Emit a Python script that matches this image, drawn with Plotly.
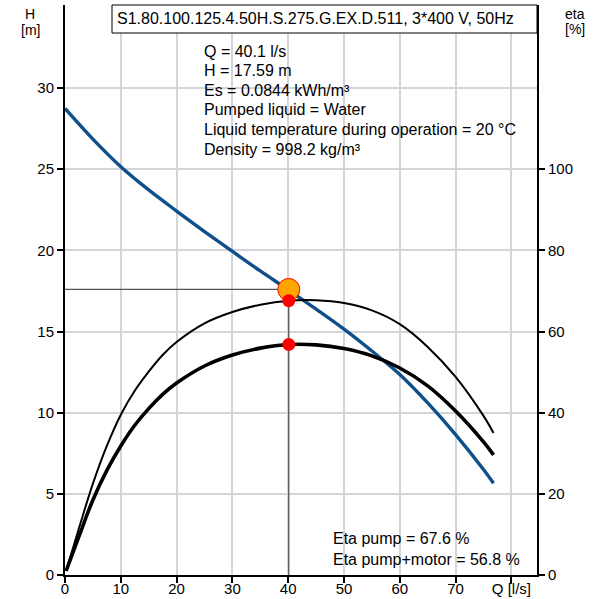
import plotly.graph_objects as go

# ---- data ----
Q_H = [0, 5, 10, 15, 20, 25, 30, 35, 40, 45, 50, 55, 60, 65, 70, 75, 76.8]
H = [28.74, 26.85, 25.15, 23.72, 22.42, 21.16, 19.93, 18.73, 17.57, 16.38, 15.15, 13.8, 12.35, 10.6, 8.65, 6.5, 5.65]

Q_eta = [0.2, 2.5, 5, 7.5, 10, 12.5, 15, 17.5, 20, 25, 30, 35, 40.1, 45, 50, 55, 60, 65, 70, 75, 76.8]
eta_pump = [1, 11.5, 22.5, 31.8, 39.5, 45.4, 50.1, 54.2, 57.4, 62, 64.8, 66.6, 67.6, 67.7, 67.0, 65.2, 61.8, 56.2, 48.8, 39.2, 35.0]
eta_total = [1, 9.5, 18.5, 25.8, 31.8, 36.9, 41, 44.5, 47.3, 51.5, 54.2, 55.9, 56.8, 56.7, 55.8, 54.0, 51.0, 46.6, 40.4, 32.8, 29.6]

Q_op = 40.1
H_op = 17.59
eta_pump_op = 67.6
eta_total_op = 56.8

x_tickvals = [0, 10, 20, 30, 40, 50, 60, 70, 80]
x_ticktext = ["0", "10", "20", "30", "40", "50", "60", "70", "Q [l/s]"]
y_tickvals = [0, 5, 10, 15, 20, 25, 30]
y2_tickvals = [0, 20, 40, 60, 80, 100]

title_text = "S1.80.100.125.4.50H.S.275.G.EX.D.511, 3*400 V, 50Hz"
info_lines = [
    "Q = 40.1 l/s",
    "H = 17.59 m",
    "Es = 0.0844 kWh/m³",
    "Pumped liquid = Water",
    "Liquid temperature during operation = 20 °C",
    "Density = 998.2 kg/m³",
]
eta_lines = ["Eta pump = 67.6 %", "Eta pump+motor = 56.8 %"]

FONT = "Liberation Sans, Arial, sans-serif"

# plot area geometry (pixels)
L, R, T, B = 65, 537, 5, 575
W, HH = 602, 599


def px_x(px):
    return (px - L) / (R - L)


def px_y(py):
    return (B - py) / (B - T)


fig = go.Figure()

# operating point guide lines
fig.add_trace(go.Scatter(x=[0, Q_op], y=[H_op, H_op], mode="lines",
                         line=dict(color="#555555", width=1.3), hoverinfo="skip"))
fig.add_trace(go.Scatter(x=[Q_op, Q_op], y=[H_op, 0], mode="lines",
                         line=dict(color="#555555", width=1.3), hoverinfo="skip"))

# efficiency curves
fig.add_trace(go.Scatter(x=Q_eta, y=eta_pump, yaxis="y2", mode="lines",
                         line=dict(color="black", width=2, shape="spline", smoothing=1)))
fig.add_trace(go.Scatter(x=Q_eta, y=eta_total, yaxis="y2", mode="lines",
                         line=dict(color="black", width=3.6, shape="spline", smoothing=1)))

# head curve
fig.add_trace(go.Scatter(x=Q_H, y=H, mode="lines",
                         line=dict(color="#0f4f8a", width=3.4, shape="spline", smoothing=1)))

# efficiency points
fig.add_trace(go.Scatter(x=[Q_op, Q_op], y=[eta_pump_op, eta_total_op], yaxis="y2",
                         mode="markers", marker=dict(color="red", size=13, line=dict(width=0))))
# duty point
fig.add_trace(go.Scatter(x=[Q_op], y=[H_op], mode="markers",
                         marker=dict(color="#ffa500", size=22, line=dict(color="red", width=1))))

shapes = [
    # info box background
    dict(type="rect", xref="paper", yref="paper", x0=px_x(198), x1=px_x(533),
         y0=px_y(161), y1=px_y(40), fillcolor="white", line=dict(width=0), layer="between"),
    # eta box background
    dict(type="rect", xref="paper", yref="paper", x0=px_x(328), x1=px_x(535),
         y0=px_y(574), y1=px_y(530), fillcolor="white", line=dict(width=0), layer="between"),
    # title box
    dict(type="rect", xref="paper", yref="paper", x0=px_x(112), x1=1.0,
         y0=px_y(33), y1=1.0, fillcolor="white", line=dict(color="black", width=1), layer="above"),
]

annotations = [
    dict(text=title_text, xref="paper", yref="paper", x=px_x(115), y=px_y(18.5),
         xanchor="left", yanchor="middle", showarrow=False, font=dict(size=16, color="black", family=FONT)),
    dict(text="H", xref="paper", yref="paper", x=px_x(30), y=px_y(14),
         xanchor="center", yanchor="middle", showarrow=False, font=dict(size=14, color="black", family=FONT)),
    dict(text="[m]", xref="paper", yref="paper", x=px_x(30), y=px_y(30),
         xanchor="center", yanchor="middle", showarrow=False, font=dict(size=14, color="black", family=FONT)),
    dict(text="eta", xref="paper", yref="paper", x=px_x(575), y=px_y(14),
         xanchor="center", yanchor="middle", showarrow=False, font=dict(size=14, color="black", family=FONT)),
    dict(text="[%]", xref="paper", yref="paper", x=px_x(575), y=px_y(29),
         xanchor="center", yanchor="middle", showarrow=False, font=dict(size=14, color="black", family=FONT)),
]
info_y = [51, 70.6, 90.2, 109.8, 129.4, 149]
for line, yy in zip(info_lines, info_y):
    annotations.append(dict(text=line, xref="paper", yref="paper", x=px_x(202), y=px_y(yy),
                            xanchor="left", yanchor="middle", showarrow=False,
                            font=dict(size=16, color="black", family=FONT)))
eta_y = [538, 559]
for line, yy in zip(eta_lines, eta_y):
    annotations.append(dict(text=line, xref="paper", yref="paper", x=px_x(331), y=px_y(yy),
                            xanchor="left", yanchor="middle", showarrow=False,
                            font=dict(size=16, color="black", family=FONT)))

axis_common = dict(zeroline=False, showline=True, linecolor="black", linewidth=2,
                   ticks="outside", ticklen=6, tickwidth=2, tickcolor="black",
                   tickfont=dict(size=15, family=FONT, color="black"), automargin=False)

fig.update_layout(
    width=W, height=HH,
    margin=dict(l=L, r=W - R, t=T, b=HH - B, pad=0, autoexpand=False),
    paper_bgcolor="white", plot_bgcolor="white",
    showlegend=False,
    font=dict(family=FONT, size=15, color="black"),
    xaxis=dict(range=[0, (R - L) / 5.58], tickmode="array", tickvals=x_tickvals, ticktext=x_ticktext,
               showgrid=True, gridcolor="#d2d5d9", gridwidth=1.5, ticklabelstandoff=-7, **axis_common),
    yaxis=dict(range=[0, (B - T) / 16.233], tickmode="array", tickvals=y_tickvals,
               showgrid=True, gridcolor="#d2d5d9", gridwidth=1.5, **axis_common),
    yaxis2=dict(range=[0, 4 * (B - T) / 16.233], tickmode="array", tickvals=y2_tickvals,
                overlaying="y", side="right", showgrid=False, **axis_common),
    shapes=shapes,
    annotations=annotations,
)

fig.write_html("out.html")
